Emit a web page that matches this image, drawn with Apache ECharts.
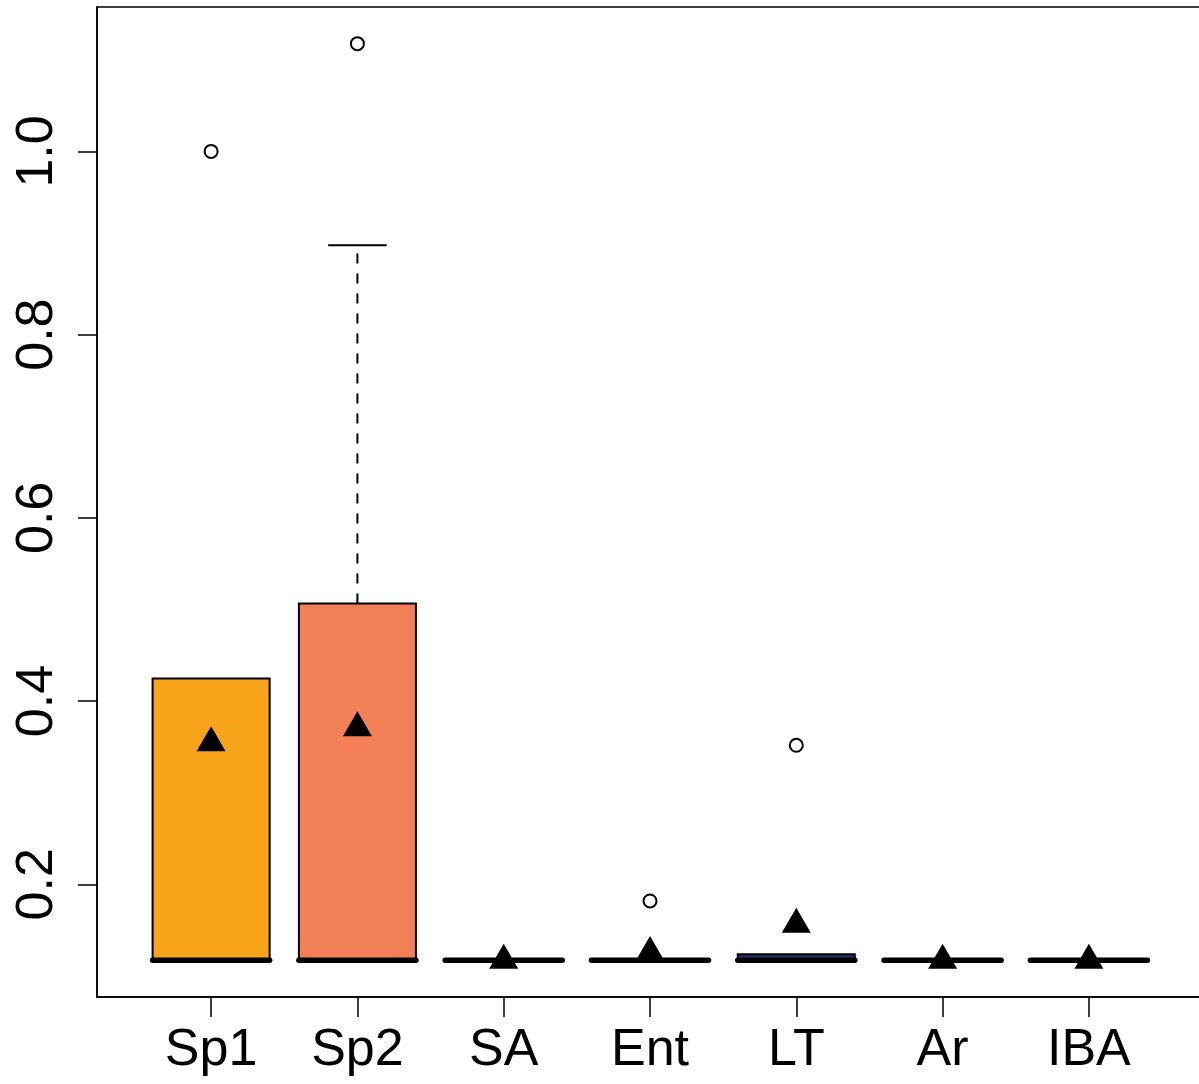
<!DOCTYPE html>
<html>
<head>
<meta charset="utf-8">
<script src="https://cdn.jsdelivr.net/npm/echarts@6/dist/echarts.min.js"></script>
<style>
html,body{margin:0;padding:0;background:#fff;}
#chart{width:1199px;height:1084px;}
</style>
</head>
<body>
<div id="chart"></div>
<script>
// ---- data ----
const categories = ['Sp1', 'Sp2', 'SA', 'Ent', 'LT', 'Ar', 'IBA'];
const whiskerLow = [0.117, 0.117, 0.117, 0.117, 0.117, 0.117, 0.117];
const q1 =         [0.117, 0.117, 0.117, 0.117, 0.117, 0.117, 0.117];
const median =     [0.117, 0.117, 0.117, 0.117, 0.117, 0.117, 0.117];
const q3 =         [0.4247, 0.5066, 0.117, 0.117, 0.1236, 0.117, 0.117];
const whiskerHigh = [0.4247, 0.8975, 0.117, 0.117, 0.1236, 0.117, 0.117];
const means =      [0.3545, 0.3709, 0.117, 0.1255, 0.1564, 0.117, 0.117];
const outliers =   [[1.0], [1.1176], [], [0.1818], [0.3517], [], []];
const yTicks = [0.2, 0.4, 0.6, 0.8, 1.0];
const yTickLabels = ['0.2', '0.4', '0.6', '0.8', '1.0'];

// ---- styles ----
const fills = ['#F9A51B', '#F37F57', '#FFFFFF', '#FFFFFF', '#2B2F74', '#FFFFFF', '#FFFFFF'];
const FONT = '"Liberation Sans", Arial, Helvetica, sans-serif';

// R-style axis extents (4% extension)
const allVals = [].concat(whiskerLow, whiskerHigh, ...outliers);
const dMin = Math.min(...allVals), dMax = Math.max(...allVals);
const yMin = dMin - 0.04 * (dMax - dMin);
const yMax = dMax + 0.04 * (dMax - dMin);
const xMin = 0.5 - 0.04 * categories.length;
const xMax = categories.length + 0.5 + 0.04 * categories.length;
const xPositions = categories.map((c, i) => i + 1);

const boxData = categories.map((c, i) => [i + 1, whiskerLow[i], q1[i], median[i], q3[i], whiskerHigh[i], i]);
const meanData = categories.map((c, i) => [i + 1, means[i]]);
const outlierData = [];
outliers.forEach((arr, i) => arr.forEach(v => outlierData.push([i + 1, v])));

function renderBox(params, api) {
  const x = api.value(0);
  const lo = api.value(1), b1 = api.value(2), md = api.value(3), b3 = api.value(4), hi = api.value(5);
  const idx = api.value(6);
  const boxW = api.size([0.8, 0])[0];
  const capW = api.size([0.4, 0])[0];
  const pLo = api.coord([x, lo]), p1 = api.coord([x, b1]), pM = api.coord([x, md]);
  const p3 = api.coord([x, b3]), pHi = api.coord([x, hi]);
  const cx = pM[0];
  const children = [];
  if (hi > b3) {
    children.push({type: 'line', shape: {x1: cx, y1: p3[1], x2: cx, y2: pHi[1]},
      style: {stroke: '#000', lineWidth: 2, lineDash: [10, 10]}});
    children.push({type: 'line', shape: {x1: cx - capW / 2, y1: pHi[1], x2: cx + capW / 2, y2: pHi[1]},
      style: {stroke: '#000', lineWidth: 2}});
  }
  if (lo < b1) {
    children.push({type: 'line', shape: {x1: cx, y1: p1[1], x2: cx, y2: pLo[1]},
      style: {stroke: '#000', lineWidth: 2, lineDash: [10, 10]}});
    children.push({type: 'line', shape: {x1: cx - capW / 2, y1: pLo[1], x2: cx + capW / 2, y2: pLo[1]},
      style: {stroke: '#000', lineWidth: 2}});
  }
  children.push({type: 'rect', shape: {x: cx - boxW / 2, y: p3[1], width: boxW, height: p1[1] - p3[1]},
    style: {fill: fills[idx], stroke: '#000', lineWidth: 2}});
  children.push({type: 'line', shape: {x1: cx - boxW / 2, y1: pM[1], x2: cx + boxW / 2, y2: pM[1]},
    style: {stroke: '#000', lineWidth: 5.5, lineCap: 'round'}});
  return {type: 'group', children: children};
}

const chart = echarts.init(document.getElementById('chart'), null, {renderer: 'canvas'});
chart.setOption({
  animation: false,
  backgroundColor: '#ffffff',
  grid: {left: 97, top: 7, width: 1106, bottom: 87, show: true, borderColor: '#000', borderWidth: 1.5,
    containLabel: false, outerBoundsMode: 'none'},
  xAxis: {
    type: 'value', min: xMin, max: xMax,
    axisLine: {show: true, onZero: false, lineStyle: {color: '#000', width: 1.5}},
    axisTick: {show: true, customValues: xPositions, length: 20, lineStyle: {color: '#000', width: 1.5}},
    axisLabel: {show: true, customValues: xPositions, margin: 28,
      formatter: v => categories[Math.round(v) - 1] || '',
      color: '#000', fontSize: 52, fontFamily: FONT},
    splitLine: {show: false}
  },
  yAxis: {
    type: 'value', min: yMin, max: yMax,
    axisLine: {show: true, onZero: false, lineStyle: {color: '#000', width: 1.5}},
    axisTick: {show: true, customValues: yTicks, length: 19, lineStyle: {color: '#000', width: 1.5}},
    axisLabel: {show: true, customValues: yTicks, rotate: 90, margin: 33,
      formatter: v => { const k = yTicks.findIndex(t => Math.abs(t - v) < 1e-9); return k >= 0 ? yTickLabels[k] : ''; },
      color: '#000', fontSize: 52, fontFamily: FONT},
    splitLine: {show: false}
  },
  series: [
    {
      type: 'custom', name: 'box', renderItem: renderBox, data: boxData, z: 2,
      encode: {x: 0, y: [1, 2, 3, 4, 5]}, clip: false
    },
    {
      type: 'scatter', name: 'outliers', data: outlierData, z: 3,
      symbol: 'circle', symbolSize: 13,
      itemStyle: {color: '#fff', borderColor: '#000', borderWidth: 2, opacity: 1}
    },
    {
      type: 'scatter', name: 'mean', data: meanData, z: 4,
      symbol: 'triangle', symbolSize: [29, 25], symbolOffset: [0, -4],
      itemStyle: {color: '#000', borderWidth: 0, opacity: 1}
    }
  ]
});
</script>
</body>
</html>
